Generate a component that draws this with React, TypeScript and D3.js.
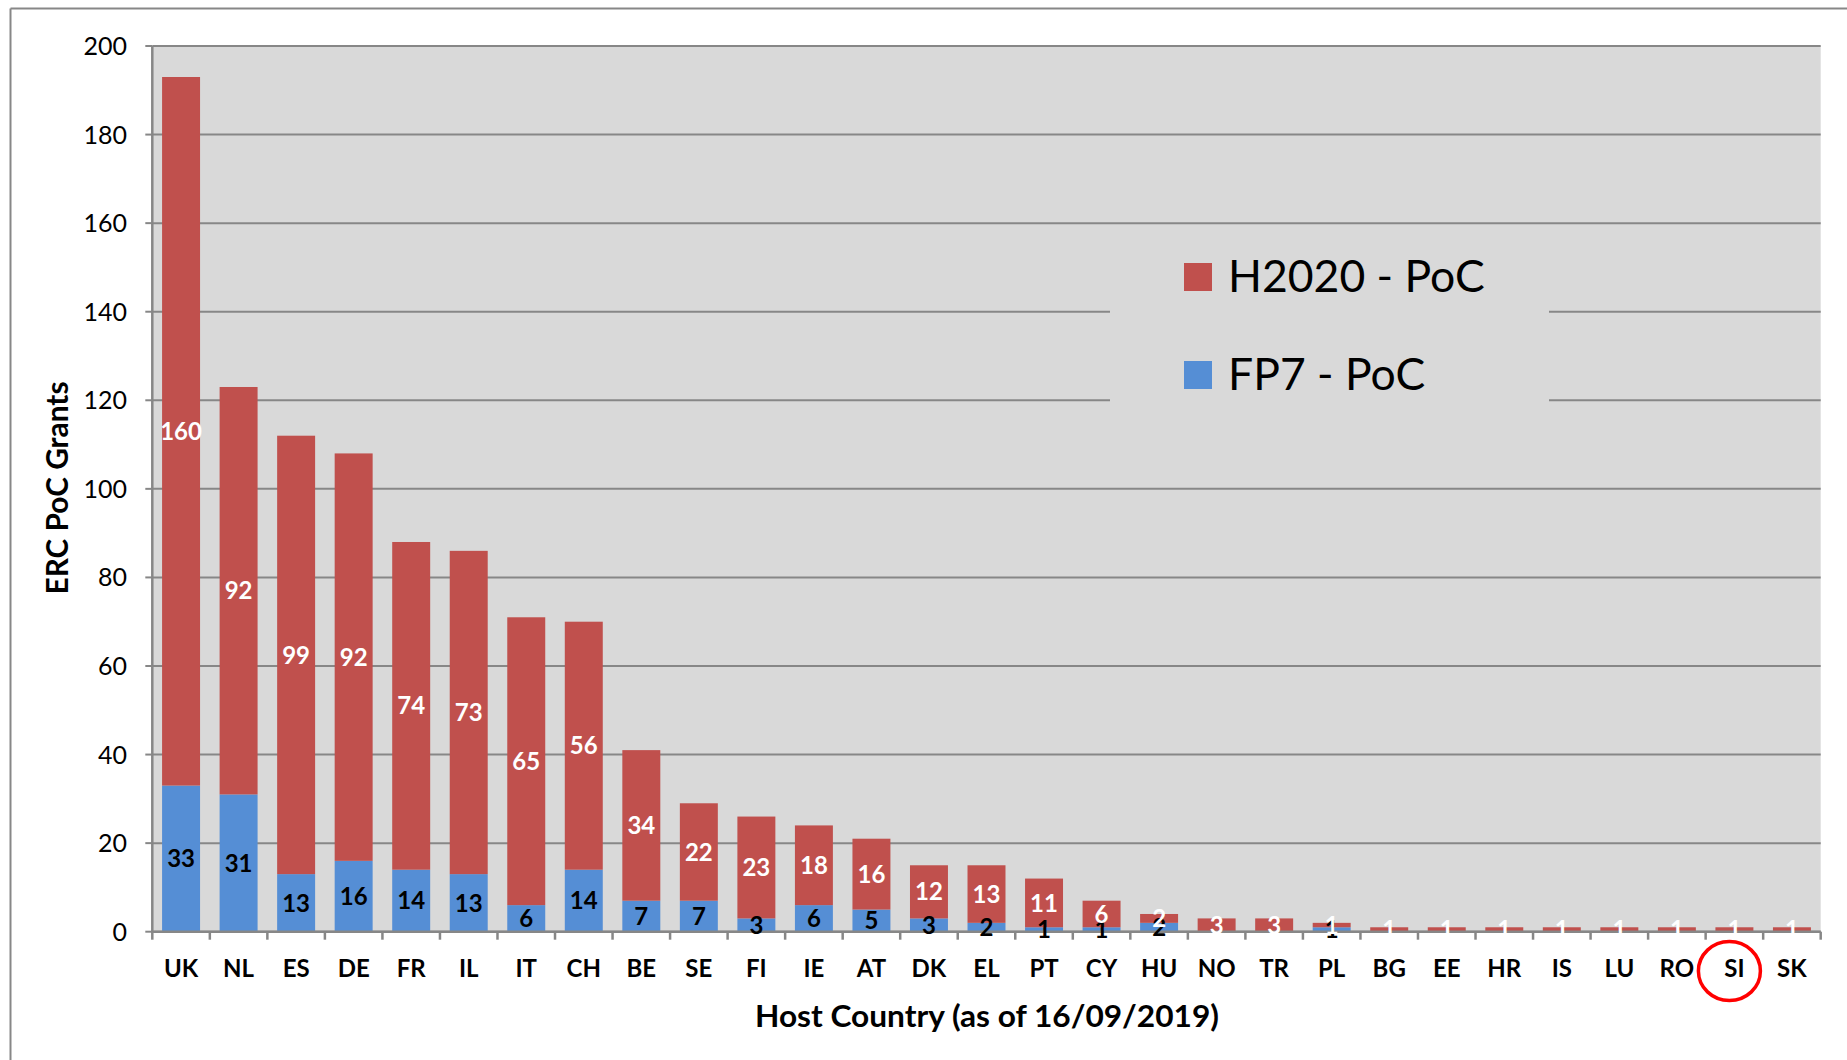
import React from "react";
import * as d3 from "d3";

const countries = ["UK","NL","ES","DE","FR","IL","IT","CH","BE","SE","FI","IE","AT","DK","EL","PT","CY","HU","NO","TR","PL","BG","EE","HR","IS","LU","RO","SI","SK"];
const fp7 = [33,31,13,16,14,13,6,14,7,7,3,6,5,3,2,1,1,2,0,0,1,0,0,0,0,0,0,0,0];
const h2020 = [160,92,99,92,74,73,65,56,34,22,23,18,16,12,13,11,6,2,3,3,1,1,1,1,1,1,1,1,1];
const yTicks = [0,20,40,60,80,100,120,140,160,180,200];
const seriesNames = ["H2020 - PoC", "FP7 - PoC"];
const highlighted = "SI";

const W = 1847, H = 1060;
const FONT = "Lato, 'Open Sans', sans-serif";
const RED = "#C0504D";
const BLUE = "#558ED5";
const GRID = "#878787";

export default function App() {
  const left = 152.3, right = 1820.7, top = 46, bottom = 931.7;
  const pad = 0.34;
  const x = d3.scaleBand<string>().domain(countries).range([left, right]).paddingInner(pad).paddingOuter(pad / 2);
  const y = d3.scaleLinear().domain([0, 200]).range([bottom, top]);
  const step = x.step();
  const bw = x.bandwidth();
  const capHalf = 24 * 0.72 / 2;

  const boundaries = countries.map((c) => (x(c) as number) - step * pad / 2).concat([right]);
  const hi = countries.indexOf(highlighted);
  const hiX = (x(highlighted) as number) + bw / 2;

  return (
    <div style={{ position: "absolute", left: 0, top: 0 }}>
      <svg width={W} height={H} style={{ display: "block", background: "#fff" }}>
        {/* outer border */}
        <line x1={10.5} y1={8.5} x2={W} y2={8.5} stroke={GRID} strokeWidth={2} />
        <line x1={10.5} y1={8.5} x2={10.5} y2={H} stroke={GRID} strokeWidth={2} />

        {/* plot background */}
        <rect x={left} y={top} width={right - left} height={bottom - top} fill="#D9D9D9" />

        {/* gridlines */}
        {yTicks.map((t) => (
          <line key={"g" + t} x1={left} x2={right} y1={y(t)} y2={y(t)} stroke={GRID} strokeWidth={2} />
        ))}

        {/* legend background (interrupts gridlines) */}
        <rect x={1110} y={236} width={439} height={180} fill="#D9D9D9" />

        {/* bars */}
        {countries.map((c, i) => {
          const bx = x(c) as number;
          return (
            <g key={"b" + c}>
              {fp7[i] > 0 && (
                <rect x={bx} width={bw} y={y(fp7[i])} height={y(0) - y(fp7[i])} fill={BLUE} />
              )}
              {h2020[i] > 0 && (
                <rect x={bx} width={bw} y={y(fp7[i] + h2020[i])} height={y(fp7[i]) - y(fp7[i] + h2020[i])} fill={RED} />
              )}
            </g>
          );
        })}

        {/* axes */}
        <line x1={left} x2={left} y1={top} y2={bottom} stroke={GRID} strokeWidth={2.5} />
        <line x1={left - 1} x2={right} y1={bottom} y2={bottom} stroke={GRID} strokeWidth={2.5} />
        {yTicks.map((t) => (
          <line key={"yt" + t} x1={left - 7} x2={left} y1={y(t)} y2={y(t)} stroke={GRID} strokeWidth={2} />
        ))}
        {boundaries.map((b, i) => (
          <line key={"xt" + i} x1={b} x2={b} y1={bottom} y2={bottom + 8} stroke={GRID} strokeWidth={2.5} />
        ))}

        {/* y tick labels */}
        {yTicks.map((t) => (
          <text key={"yl" + t} x={127} y={y(t) + 9} textAnchor="end" fontFamily={FONT} fontSize={25} fill="#000">
            {t}
          </text>
        ))}

        {/* data labels */}
        {countries.map((c, i) => {
          const cx = (x(c) as number) + bw / 2;
          return (
            <g key={"l" + c} fontFamily={FONT} fontWeight="bold" fontSize={24} textAnchor="middle">
              {fp7[i] > 0 && (
                <text x={cx} y={y(fp7[i] / 2) + capHalf} fill="#000">{fp7[i]}</text>
              )}
              {h2020[i] > 0 && (
                <text x={cx} y={y(fp7[i] + h2020[i] / 2) + capHalf} fill="#fff">{h2020[i]}</text>
              )}
            </g>
          );
        })}

        {/* x tick labels */}
        {countries.map((c) => (
          <text key={"xl" + c} x={(x(c) as number) + bw / 2} y={977} textAnchor="middle" fontFamily={FONT} fontWeight="bold" fontSize={24} fill="#000">
            {c}
          </text>
        ))}

        {/* axis titles */}
        <text x={987} y={1027} textAnchor="middle" fontFamily={FONT} fontWeight="bold" fontSize={31} fill="#000" textLength={464} lengthAdjust="spacingAndGlyphs">
          Host Country (as of 16/09/2019)
        </text>
        <text transform="translate(68,488) rotate(-90)" textAnchor="middle" fontFamily={FONT} fontWeight="bold" fontSize={30} fill="#000" textLength={213} lengthAdjust="spacingAndGlyphs">
          ERC PoC Grants
        </text>

        {/* legend */}
        <rect x={1184} y={263} width={28} height={28} fill={RED} />
        <text x={1228} y={292} fontFamily={FONT} fontSize={44.5} fill="#000">{seriesNames[0]}</text>
        <rect x={1184} y={361} width={28} height={28} fill={BLUE} />
        <text x={1228} y={390} fontFamily={FONT} fontSize={44.5} fill="#000">{seriesNames[1]}</text>

        {/* highlight circle */}
        {hi >= 0 && (
          <ellipse cx={hiX - 5} cy={971} rx={31} ry={29.5} fill="none" stroke="#FF0000" strokeWidth={3.5} />
        )}
      </svg>
    </div>
  );
}
